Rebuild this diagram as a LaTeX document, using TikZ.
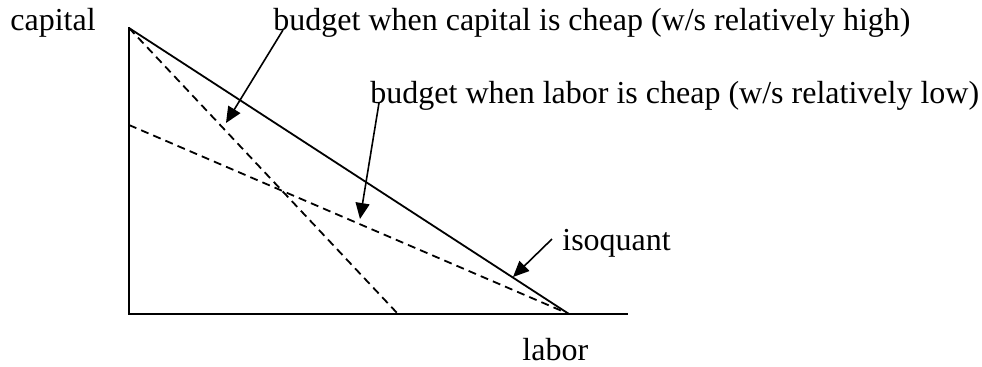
\documentclass[tikz,border=0pt]{standalone}
\usepackage{fontspec}
\setmainfont{Liberation Serif}
\usepackage{tikz}
\usetikzlibrary{positioning,arrows.meta}

\begin{document}
\begin{tikzpicture}[
  x=0.5pt, y=-0.5pt, font=\fontsize{16}{19}\selectfont,
  axis/.style={line width=1.2pt},
  budget/.style={line width=0.9pt, dash pattern=on 4pt off 2.6pt},
  iso/.style={line width=0.9pt},
  pointer/.style={-{Triangle[length=8pt,width=7pt]}, line width=0.8pt},
  lab/.style={inner sep=0pt, anchor=base west}
]
\useasboundingbox (0,0) rectangle (982,366);

% corner points of the diagram
\coordinate (origin) at (129,314);
\coordinate (ktop) at (129,28);
\coordinate (klow) at (129,125);
\coordinate (lmid) at (398,314);
\coordinate (lend) at (569,314);
\coordinate (xend) at (628,314);
\coordinate (ytop) at (129,27);

% axes
\draw[axis] (ytop) -- (origin) -- (xend);

% isoquant and the two budget lines
\draw[iso] (ktop) -- (lend);
\draw[budget] (ktop) -- (lmid);
\draw[budget] (klow) -- (lend);

% labels
\node[lab] (capital) at (10,30) {capital};
\node[lab] (labor) at (522,360) {labor};
\node[lab] (capcheap) at (273,30) {budget when capital is cheap (w/s relatively high)};
\node[lab] (labcheap) at (370,103) {budget when labor is cheap (w/s relatively low)};
\node[lab] (isoquant) at (562,250) {isoquant};

% pointers from labels to lines
\coordinate (captip) at (226,123);
\coordinate (labtip) at (360,219);
\coordinate (isotip) at (513,277);
\draw[pointer] ([xshift=5pt]capcheap.base west) -- (captip);
\draw[pointer] ([xshift=4.5pt]labcheap.base west) -- (labtip);
\draw[pointer] ([xshift=-5pt,yshift=5.5pt]isoquant.base west) -- (isotip);
\end{tikzpicture}
\end{document}
